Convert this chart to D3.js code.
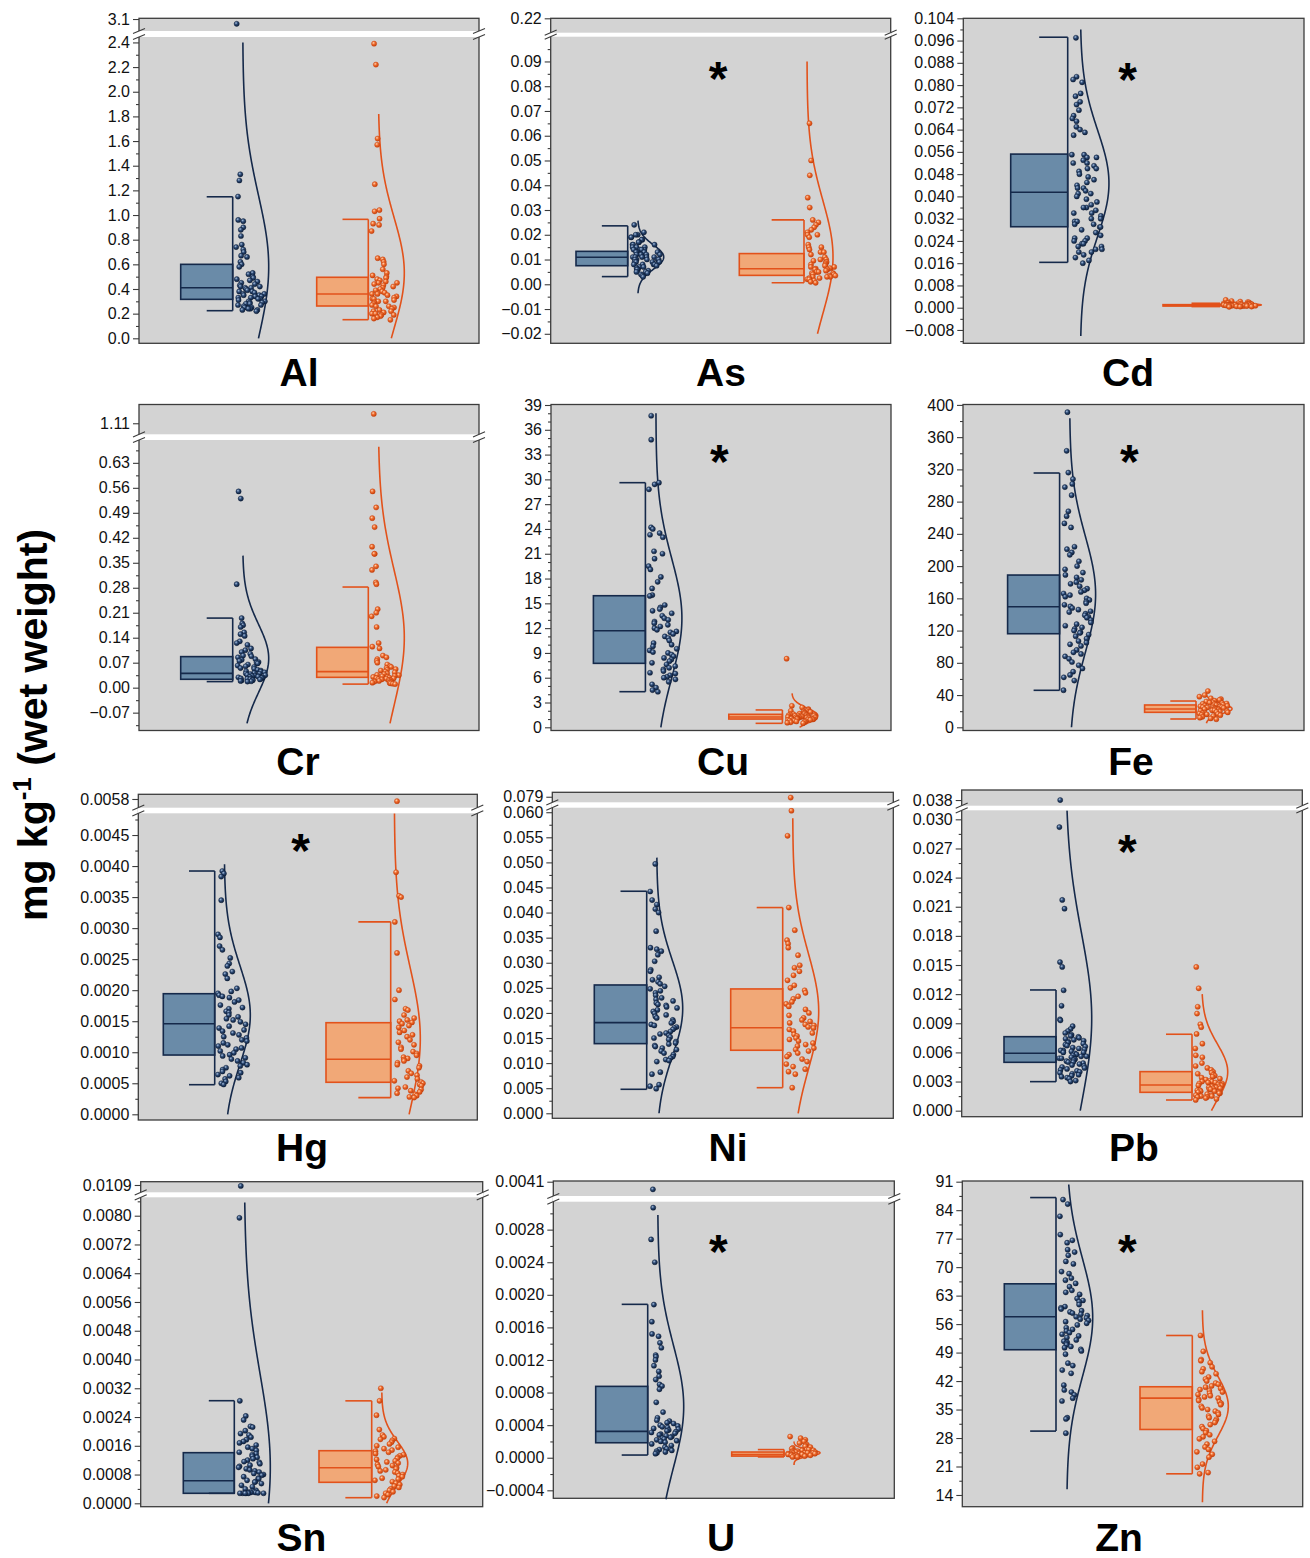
<!DOCTYPE html>
<html>
<head>
<meta charset="utf-8">
<script src="https://cdn.jsdelivr.net/npm/d3@7"></script>
<style>
  body { margin: 0; background: #fff; }
  svg text { font-family: "Liberation Sans", Arial, sans-serif; }
</style>
</head>
<body>
<svg id="chart" width="1310" height="1558"></svg>
<script>
// ---------- data ----------
const elements = ["Al", "As", "Cd", "Cr", "Cu", "Fe", "Hg", "Ni", "Pb", "Sn", "U", "Zn"];
const significant = [false, true, true, false, true, true, true, false, true, false, true, true];

// individual concentrations, group A (navy) and group B (orange)
const alA = [3.06, 1.33, 1.28, 1.15, 0.96, 0.95, 0.90, 0.88, 0.83, 0.76, 0.74, 0.72, 0.70, 0.67, 0.66, 0.62, 0.60, 0.58, 0.53, 0.52, 0.50, 0.49, 0.48, 0.47, 0.46, 0.45, 0.44, 0.43, 0.42, 0.42, 0.41, 0.41, 0.40, 0.39, 0.38, 0.38, 0.37, 0.36, 0.36, 0.35, 0.35, 0.34, 0.34, 0.33, 0.33, 0.32, 0.32, 0.31, 0.30, 0.30, 0.29, 0.29, 0.28, 0.28, 0.27, 0.27, 0.26, 0.25, 0.25, 0.24, 0.24, 0.23, 0.23, 0.22];
const alB = [2.39, 2.22, 1.62, 1.57, 1.25, 1.04, 1.03, 0.97, 0.93, 0.92, 0.87, 0.65, 0.64, 0.62, 0.60, 0.56, 0.53, 0.51, 0.50, 0.49, 0.48, 0.47, 0.46, 0.45, 0.45, 0.44, 0.43, 0.42, 0.41, 0.40, 0.39, 0.38, 0.37, 0.36, 0.36, 0.35, 0.34, 0.33, 0.32, 0.32, 0.31, 0.30, 0.30, 0.29, 0.28, 0.27, 0.26, 0.26, 0.25, 0.24, 0.23, 0.22, 0.22, 0.21, 0.20, 0.20, 0.19, 0.19, 0.18, 0.17, 0.16, 0.15];
const asA = [0.024, 0.021, 0.020, 0.020, 0.019, 0.019, 0.018, 0.018, 0.017, 0.017, 0.016, 0.016, 0.016, 0.015, 0.015, 0.015, 0.014, 0.014, 0.014, 0.014, 0.013, 0.013, 0.013, 0.013, 0.012, 0.012, 0.012, 0.012, 0.011, 0.011, 0.011, 0.011, 0.011, 0.010, 0.010, 0.010, 0.010, 0.010, 0.009, 0.009, 0.009, 0.009, 0.008, 0.008, 0.008, 0.008, 0.0075, 0.007, 0.007, 0.0065, 0.006, 0.006, 0.0055, 0.005, 0.005, 0.0045, 0.004, 0.0035, 0.003];
const asB = [0.065, 0.050, 0.044, 0.035, 0.031, 0.026, 0.025, 0.024, 0.023, 0.022, 0.021, 0.020, 0.020, 0.019, 0.016, 0.015, 0.015, 0.014, 0.013, 0.013, 0.012, 0.011, 0.010, 0.010, 0.0095, 0.009, 0.009, 0.0085, 0.008, 0.008, 0.0075, 0.007, 0.007, 0.0065, 0.0063, 0.006, 0.006, 0.0055, 0.005, 0.005, 0.0045, 0.0045, 0.004, 0.004, 0.004, 0.0035, 0.0035, 0.003, 0.003, 0.003, 0.0025, 0.0025, 0.002, 0.002, 0.0015, 0.001, 0.0006];
const cdA = [0.097, 0.083, 0.082, 0.081, 0.077, 0.076, 0.074, 0.073, 0.071, 0.069, 0.068, 0.067, 0.065, 0.064, 0.063, 0.062, 0.055, 0.055, 0.054, 0.054, 0.053, 0.052, 0.052, 0.051, 0.050, 0.050, 0.049, 0.048, 0.047, 0.046, 0.045, 0.044, 0.043, 0.043, 0.042, 0.041, 0.041, 0.040, 0.039, 0.038, 0.037, 0.036, 0.036, 0.035, 0.034, 0.034, 0.033, 0.032, 0.032, 0.031, 0.031, 0.030, 0.030, 0.029, 0.029, 0.028, 0.027, 0.026, 0.025, 0.025, 0.024, 0.024, 0.023, 0.023, 0.022, 0.022, 0.021, 0.021, 0.020, 0.020, 0.019, 0.018, 0.017, 0.016];
const cdB = [0.0028, 0.0024, 0.0022, 0.0020, 0.0019, 0.0018, 0.0017, 0.0016, 0.0015, 0.0015, 0.0014, 0.0014, 0.0013, 0.0013, 0.0012, 0.0012, 0.0012, 0.0011, 0.0011, 0.0011, 0.0010, 0.0010, 0.0010, 0.0010, 0.0009, 0.0009, 0.0009, 0.0009, 0.0008, 0.0008, 0.0008, 0.0008, 0.0007, 0.0007, 0.0007, 0.0006, 0.0006, 0.0006, 0.0005, 0.0005, 0.0004, 0.0004, 0.0003];
const crA = [0.55, 0.53, 0.29, 0.195, 0.18, 0.175, 0.17, 0.155, 0.15, 0.145, 0.13, 0.125, 0.12, 0.11, 0.105, 0.10, 0.095, 0.09, 0.088, 0.085, 0.08, 0.078, 0.075, 0.072, 0.07, 0.068, 0.065, 0.062, 0.06, 0.058, 0.055, 0.053, 0.05, 0.048, 0.046, 0.045, 0.043, 0.041, 0.040, 0.039, 0.038, 0.036, 0.035, 0.034, 0.033, 0.032, 0.031, 0.030, 0.029, 0.028, 0.027, 0.026, 0.025, 0.025, 0.024, 0.023, 0.022, 0.021, 0.020, 0.019, 0.018, 0.017];
const crB = [1.127, 0.55, 0.505, 0.475, 0.45, 0.395, 0.375, 0.375, 0.34, 0.33, 0.295, 0.29, 0.22, 0.21, 0.20, 0.17, 0.125, 0.115, 0.11, 0.09, 0.085, 0.08, 0.075, 0.07, 0.065, 0.06, 0.058, 0.055, 0.052, 0.05, 0.048, 0.045, 0.043, 0.04, 0.038, 0.036, 0.035, 0.033, 0.032, 0.03, 0.03, 0.028, 0.027, 0.026, 0.025, 0.024, 0.023, 0.022, 0.021, 0.02, 0.019, 0.018, 0.017, 0.016, 0.015, 0.014, 0.013, 0.012, 0.011, 0.010];
const cuA = [37.7, 34.8, 29.6, 29.4, 28.8, 24.2, 24.0, 23.5, 23.3, 23.0, 21.3, 21.0, 20.4, 19.5, 19.1, 18.2, 17.6, 16.8, 16.0, 15.9, 14.8, 14.5, 14.3, 14.1, 13.8, 13.5, 13.2, 13.0, 12.8, 12.6, 12.4, 12.2, 12.0, 11.8, 11.6, 11.5, 11.3, 11.0, 10.8, 10.5, 10.2, 10.0, 9.8, 9.5, 9.3, 9.1, 9.0, 8.8, 8.6, 8.4, 8.2, 8.0, 7.8, 7.6, 7.4, 7.2, 7.0, 6.8, 6.6, 6.5, 6.3, 6.1, 6.0, 5.8, 5.5, 5.2, 4.8, 4.5, 4.3];
const cuB = [8.3, 2.6, 2.4, 2.2, 2.1, 2.0, 1.95, 1.9, 1.85, 1.8, 1.75, 1.7, 1.65, 1.6, 1.6, 1.55, 1.5, 1.5, 1.45, 1.45, 1.4, 1.4, 1.35, 1.35, 1.3, 1.3, 1.25, 1.25, 1.2, 1.2, 1.2, 1.15, 1.15, 1.1, 1.1, 1.05, 1.05, 1.0, 1.0, 0.95, 0.95, 0.9, 0.9, 0.85, 0.8, 0.8, 0.75, 0.7, 0.65, 0.6, 0.55, 0.5];
const feA = [391, 343, 316, 308, 302, 298, 288, 268, 262, 253, 248, 224, 221, 217, 214, 206, 200, 196, 192, 189, 186, 183, 180, 178, 175, 172, 170, 168, 166, 164, 162, 160, 158, 156, 154, 152, 150, 148, 146, 144, 143, 141, 139, 137, 136, 133, 130, 128, 126, 124, 122, 120, 118, 117, 115, 113, 110, 107, 105, 103, 101, 96, 93, 91, 88, 85, 81, 77, 73, 69, 65, 62, 58, 46];
const feB = [45, 40, 38, 36, 35, 34, 33, 32, 31, 30.5, 30, 29.5, 29, 28.5, 28, 27.5, 27, 26.5, 26, 26, 25.5, 25, 25, 24.5, 24, 24, 23.5, 23, 23, 22.5, 22.5, 22, 22, 21.5, 21, 21, 20.5, 20, 20, 19.5, 19, 18.5, 18, 17.5, 17, 16.5, 16, 15.5, 15, 14, 13, 12, 11, 10];
const hgA = [0.00392, 0.00388, 0.00383, 0.00345, 0.00290, 0.00285, 0.00271, 0.00265, 0.00252, 0.00243, 0.00239, 0.00230, 0.00226, 0.00219, 0.00203, 0.00198, 0.00195, 0.00192, 0.00190, 0.00188, 0.00184, 0.00181, 0.00176, 0.00172, 0.00170, 0.00166, 0.00164, 0.00160, 0.00157, 0.00154, 0.00152, 0.00149, 0.00145, 0.00142, 0.00139, 0.00136, 0.00134, 0.00131, 0.00128, 0.00125, 0.00123, 0.00120, 0.00118, 0.00115, 0.00112, 0.00110, 0.00107, 0.00105, 0.00102, 0.00099, 0.00096, 0.00094, 0.00091, 0.00089, 0.00086, 0.00083, 0.00080, 0.00078, 0.00075, 0.00072, 0.00069, 0.00067, 0.00064, 0.00062, 0.00059, 0.00057, 0.00053, 0.00050, 0.00048];
const hgB = [0.00575, 0.0039, 0.00352, 0.00350, 0.00310, 0.00260, 0.00200, 0.00185, 0.00170, 0.00168, 0.00160, 0.00155, 0.00152, 0.00150, 0.00148, 0.00146, 0.00143, 0.00140, 0.00135, 0.00132, 0.00128, 0.00125, 0.00120, 0.00116, 0.00112, 0.00108, 0.00105, 0.00101, 0.00098, 0.00095, 0.00092, 0.00090, 0.00088, 0.00086, 0.00083, 0.00080, 0.00078, 0.00075, 0.00070, 0.00066, 0.00063, 0.00060, 0.00057, 0.00054, 0.00052, 0.00050, 0.00048, 0.00046, 0.00044, 0.00042, 0.00040, 0.00038, 0.00036, 0.00034, 0.00032, 0.00030, 0.00028, 0.00027];
const niA = [0.0497, 0.0442, 0.0425, 0.0416, 0.0407, 0.0400, 0.0363, 0.0330, 0.0327, 0.0323, 0.0316, 0.0303, 0.0286, 0.0283, 0.0271, 0.0266, 0.0262, 0.0258, 0.0253, 0.0248, 0.0244, 0.0240, 0.0235, 0.0230, 0.0227, 0.0224, 0.0220, 0.0217, 0.0215, 0.0212, 0.0210, 0.0206, 0.0203, 0.0199, 0.0196, 0.0193, 0.0190, 0.0186, 0.0183, 0.0180, 0.0177, 0.0175, 0.0172, 0.0170, 0.0167, 0.0163, 0.0160, 0.0158, 0.0155, 0.0152, 0.0150, 0.0147, 0.0143, 0.0140, 0.0138, 0.0135, 0.0133, 0.0130, 0.0127, 0.0124, 0.0120, 0.0117, 0.0113, 0.0110, 0.0107, 0.0105, 0.0103, 0.0082, 0.0078, 0.0057, 0.0054, 0.0049];
const niB = [0.0787, 0.0603, 0.0553, 0.0410, 0.0365, 0.0345, 0.0338, 0.0330, 0.0315, 0.0295, 0.0290, 0.0283, 0.0275, 0.0265, 0.0255, 0.0250, 0.0245, 0.0240, 0.0233, 0.0228, 0.0222, 0.0218, 0.0213, 0.0207, 0.0200, 0.0195, 0.0190, 0.0186, 0.0183, 0.0180, 0.0177, 0.0175, 0.0172, 0.0170, 0.0167, 0.0164, 0.0160, 0.0157, 0.0154, 0.0150, 0.0147, 0.0144, 0.0140, 0.0137, 0.0134, 0.0130, 0.0127, 0.0124, 0.0120, 0.0117, 0.0113, 0.0108, 0.0103, 0.0098, 0.0093, 0.0088, 0.0083, 0.0078, 0.0051];
const pbA = [0.0380, 0.0292, 0.0217, 0.0208, 0.0153, 0.0148, 0.0124, 0.0108, 0.0094, 0.0093, 0.0087, 0.0084, 0.0082, 0.0080, 0.0078, 0.0077, 0.0076, 0.0075, 0.0074, 0.0073, 0.0072, 0.0071, 0.0070, 0.0069, 0.0068, 0.0067, 0.0066, 0.0065, 0.0064, 0.0063, 0.0062, 0.0062, 0.0061, 0.0060, 0.0060, 0.0059, 0.0058, 0.0058, 0.0057, 0.0056, 0.0056, 0.0055, 0.0054, 0.0054, 0.0053, 0.0052, 0.0051, 0.0050, 0.0050, 0.0049, 0.0048, 0.0047, 0.0046, 0.0045, 0.0044, 0.0043, 0.0042, 0.0041, 0.0040, 0.0039, 0.0038, 0.0037, 0.0036, 0.0035, 0.0034, 0.0033, 0.0031, 0.0030];
const pbB = [0.0148, 0.0126, 0.0107, 0.0100, 0.0089, 0.0086, 0.0079, 0.0069, 0.0064, 0.0057, 0.0055, 0.0049, 0.0046, 0.0044, 0.0042, 0.0040, 0.0039, 0.0038, 0.0037, 0.0036, 0.0035, 0.0034, 0.0033, 0.0032, 0.0031, 0.0030, 0.0030, 0.0029, 0.0029, 0.0028, 0.0028, 0.0027, 0.0027, 0.0026, 0.0026, 0.0025, 0.0025, 0.0024, 0.0024, 0.0023, 0.0023, 0.0022, 0.0022, 0.0021, 0.0021, 0.0020, 0.0020, 0.0019, 0.0019, 0.0018, 0.0018, 0.0017, 0.0016, 0.0016, 0.0015, 0.0015, 0.0014, 0.0014, 0.0013, 0.0012, 0.0011];
const snA = [0.01085, 0.00794, 0.00285, 0.00243, 0.00232, 0.00214, 0.00212, 0.00202, 0.00194, 0.00190, 0.00184, 0.00177, 0.00172, 0.00168, 0.00162, 0.00156, 0.00152, 0.00147, 0.00142, 0.00138, 0.00135, 0.00131, 0.00128, 0.00124, 0.00120, 0.00116, 0.00114, 0.00110, 0.00106, 0.00103, 0.00100, 0.00096, 0.00093, 0.00090, 0.00087, 0.00083, 0.00080, 0.00078, 0.00074, 0.00070, 0.00068, 0.00064, 0.00060, 0.00059, 0.00055, 0.00050, 0.00046, 0.00040, 0.00036, 0.00034, 0.00032, 0.00031, 0.00030, 0.00030, 0.00029, 0.00029, 0.00028, 0.00028, 0.00028, 0.00028, 0.00028, 0.00028];
const snB = [0.00320, 0.00285, 0.00245, 0.00205, 0.00190, 0.00185, 0.00180, 0.00178, 0.00175, 0.00170, 0.00165, 0.00160, 0.00156, 0.00152, 0.00148, 0.00145, 0.00142, 0.00138, 0.00135, 0.00132, 0.00128, 0.00125, 0.00122, 0.00118, 0.00115, 0.00112, 0.00108, 0.00105, 0.00102, 0.00099, 0.00096, 0.00093, 0.00090, 0.00087, 0.00084, 0.00080, 0.00077, 0.00074, 0.00070, 0.00067, 0.00064, 0.00060, 0.00056, 0.00052, 0.00048, 0.00044, 0.00040, 0.00036, 0.00032, 0.00028, 0.00024, 0.00020, 0.00016];
const uA = [0.00394, 0.00307, 0.00268, 0.00240, 0.00188, 0.00167, 0.00152, 0.00149, 0.00141, 0.00135, 0.00126, 0.00124, 0.00120, 0.00113, 0.00106, 0.00100, 0.00096, 0.00090, 0.00088, 0.00084, 0.00068, 0.00056, 0.00049, 0.00046, 0.00045, 0.00043, 0.00042, 0.00040, 0.00039, 0.00038, 0.00037, 0.00036, 0.00035, 0.00034, 0.00033, 0.00032, 0.00031, 0.00030, 0.00029, 0.00028, 0.00027, 0.00026, 0.00025, 0.00024, 0.00023, 0.00022, 0.00021, 0.00020, 0.00019, 0.00017, 0.00015, 0.00013, 0.00011, 0.00010, 0.00009, 0.00008, 0.00007, 0.00006, 0.00005];
const uB = [0.00026, 0.00024, 0.00022, 0.00020, 0.00018, 0.00016, 0.00015, 0.00014, 0.00013, 0.00012, 0.00011, 0.00010, 0.00010, 0.00009, 0.00009, 0.00008, 0.00008, 0.00008, 0.00007, 0.00007, 0.00007, 0.00006, 0.00006, 0.00006, 0.00006, 0.00005, 0.00005, 0.00005, 0.00005, 0.00004, 0.00004, 0.00004, 0.00004, 0.00003, 0.00003, 0.00003, 0.00003, 0.00002, 0.00002, 0.00002, 0.00001, 0.00001];
const znA = [86.6, 85.5, 82.5, 78.0, 76.6, 76.0, 74.3, 73.7, 72.9, 71.4, 70.8, 68.9, 68.4, 67.3, 66.8, 66.0, 65.2, 64.3, 63.8, 63.3, 62.3, 61.8, 61.5, 60.8, 60.3, 60.0, 59.7, 59.3, 59.0, 58.7, 58.4, 58.1, 57.8, 57.5, 57.2, 56.9, 56.6, 56.2, 55.8, 55.1, 54.7, 54.3, 53.9, 53.5, 53.1, 52.7, 52.1, 51.8, 51.5, 51.2, 50.9, 50.5, 50.2, 49.8, 49.4, 48.6, 46.4, 45.8, 44.7, 43.9, 41.0, 39.8, 39.3, 38.6, 37.8, 37.1, 33.0, 32.7, 29.2];
const znB = [53.2, 49.3, 47.3, 47.0, 46.5, 45.5, 45.0, 44.3, 43.8, 43.0, 42.5, 42.0, 41.5, 41.2, 40.8, 40.5, 40.2, 39.9, 39.6, 39.3, 39.0, 38.7, 38.4, 38.1, 37.8, 37.5, 37.2, 36.9, 36.5, 36.2, 35.8, 35.4, 35.0, 34.6, 34.2, 33.8, 33.4, 33.0, 32.6, 32.2, 31.8, 31.3, 30.8, 30.3, 29.8, 29.3, 28.8, 28.3, 27.8, 27.2, 26.5, 25.8, 25.2, 24.6, 24.0, 23.3, 21.6, 20.8, 19.5, 19.2];

const seriesA = [alA, asA, cdA, crA, cuA, feA, hgA, niA, pbA, snA, uA, znA];
const seriesB = [alB, asB, cdB, crB, cuB, feB, hgB, niB, pbB, snB, uB, znB];

// box statistics: [lower whisker, Q1, median, Q3, upper whisker]
const boxA = [
  [0.224, 0.316, 0.41, 0.60, 1.148], [0.0031, 0.0075, 0.0109, 0.0133, 0.0236],
  [0.0163, 0.0291, 0.0415, 0.0552, 0.0972], [0.017, 0.0235, 0.040, 0.087, 0.195],
  [4.31, 7.74, 11.69, 15.92, 29.6], [45.9, 116.1, 149.6, 188.9, 315.5],
  [0.000477, 0.000955, 0.00146, 0.001943, 0.00392], [0.00478, 0.01388, 0.01806, 0.02557, 0.04425],
  [0.00299, 0.00498, 0.00591, 0.00762, 0.01243], [0.000278, 0.000278, 0.000628, 0.001408, 0.002854],
  [0.000033, 0.000184, 0.000324, 0.000876, 0.001883], [29.7, 49.7, 57.8, 65.9, 87.1]
];
const boxB = [
  [0.151, 0.262, 0.359, 0.495, 0.965], [0.0006, 0.0036, 0.0063, 0.0124, 0.026],
  [0.0004, 0.0006, 0.0008, 0.0011, 0.0016], [0.010, 0.029, 0.045, 0.113, 0.282],
  [0.48, 1.0, 1.25, 1.57, 2.1], [10.3, 18.6, 22.7, 27.7, 32.6],
  [0.000268, 0.000516, 0.000886, 0.001476, 0.0031], [0.0051, 0.01256, 0.01706, 0.02478, 0.041],
  [0.0011, 0.00189, 0.00265, 0.00402, 0.00787], [0.000156, 0.000584, 0.00099, 0.001463, 0.00285],
  [0.00001, 0.00002, 0.00004, 0.00007, 0.0001], [19.2, 30.1, 37.8, 40.6, 53.2]
];

// fitted normal curves: [mean, sd, drawn from, drawn to]
const curveA = [
  [0.58, 0.58, 0, 2.4], [0.011, 0.0049, -0.0036, 0.0257], [0.0447, 0.019, -0.0102, 0.100],
  [0.082, 0.096, -0.10, 0.37], [13.2, 7.25, 0, 38.0], [165, 72, 0, 383.5],
  [0.0016, 0.00079, 0, 0.00403], [0.0209, 0.0095, 0, 0.05095], [0.0095, 0.0088, 0, 0.0309],
  [0.0010, 0.0026, 0, 0.00837], [0.00063, 0.00075, -0.00051, 0.00298], [57.6, 14.5, 15.4, 90.3]
];
const curveB = [
  [0.53, 0.45, 0, 1.82], [0.011, 0.023, -0.02, 0.09], [0.001, 0.0004, 0, 0.0022],
  [0.14, 0.19, -0.10, 0.675], [1.4, 0.9, 0, 4.1], [23, 6.3, 5, 42],
  [0.00122, 0.00115, 0, 0.00485], [0.0203, 0.0115, 0, 0.0588], [0.0040, 0.00286, 0, 0.012],
  [0.00111, 0.00061, 0, 0.00308], [0.00006, 0.00004, -0.00009, 0.0002], [35.8, 7.3, 12.2, 59.4]
];

// y ticks: [first, last, step, decimals]
const tickSpecs = [
  [0, 2.4, 0.2, 1], [-0.02, 0.09, 0.01, 2], [-0.008, 0.104, 0.008, 3],
  [-0.07, 0.63, 0.07, 2], [0, 39, 3, 0], [0, 400, 40, 0],
  [0, 0.0045, 0.0005, 4], [0, 0.060, 0.005, 3], [0, 0.030, 0.003, 3],
  [0, 0.0080, 0.0008, 4], [-0.0004, 0.0028, 0.0004, 4], [14, 91, 7, 0]
];
const minorDivs = [2, 2, 2, 2, 3, 2, 2, 2, 2, 2, 2, 2];
const breakTicks = [3.1, 0.22, null, 1.11, null, null, 0.0058, 0.079, 0.038, 0.0109, 0.0041, null];

// lower (main) axis range and upper (broken) axis range
const lowDomains = [
  [-0.0405, 2.444], [-0.02384, 0.1], [-0.01279, 0.104], [-0.12, 0.694],
  [-0.387, 39.06], [-3.97, 400.5], [-0.0000918, 0.00485], [-0.001, 0.0609],
  [-0.00062, 0.03093], [-0.0000946, 0.008512], [-0.000498, 0.003143], [11.12, 91.17]
];
const topDomains = [
  [3.0, 3.106], [0.2, 0.22], null, [1.09, 1.144], null, null,
  [0.0056, 0.0059077], [0.077, 0.0806], [0.0367, 0.0403], [0.0105, 0.01108], [0.0038, 0.004115], null
];

// ---------- layout ----------
// plot rectangle [x0, y0, x1, y1]; white break band [top, bottom];
// box extents relative to x0 [left, right]; curve offset from whisker line; star offset from (x0, y0)
const layout = [
  { rect: [139, 18.3, 479, 343.3], band: [31, 37], bA: [41.7, 93.7], bB: [177.7, 229.3], off: [10, 10], title: [299, 386] },
  { rect: [550.7, 18.3, 890.7, 343.3], band: [32.7, 36.7], bA: [25.3, 77], bB: [188.6, 253.3], off: [10, 3], star: [167.3, 53.4], title: [721, 386] },
  { rect: [963.3, 18.3, 1304, 343.3], band: null, bA: [47.4, 104.4], bB: [199.7, 256.7], off: [11.5, 11.5], wide: 1.1, star: [164.4, 54.4], title: [1128, 386] },
  { rect: [139, 404.5, 479, 730.5], band: [434.3, 440], bA: [41.7, 93.7], bB: [177.7, 229.3], off: [10, 10], title: [298, 775] },
  { rect: [551, 404.5, 891, 730.5], band: null, bA: [42.4, 94.4], bB: [177.8, 231.4], off: [10.5, 9.4], star: [168.4, 50.5], title: [723, 775] },
  { rect: [963, 404.5, 1304, 730.5], band: null, bA: [44.6, 96.6], bB: [181.6, 233], off: [10, 10], star: [166.4, 50.5], title: [1131, 775] },
  { rect: [138.3, 794.3, 477.3, 1120], band: [807.7, 813.3], bA: [25, 76.4], bB: [187.7, 252.4], off: [9.6, 3.6], star: [162.4, 50], title: [302, 1161] },
  { rect: [552.3, 792.3, 893.3, 1118.3], band: [802.3, 807.7], bA: [42, 94.4], bB: [178.4, 230.4], off: [10, 10], title: [728, 1161] },
  { rect: [961.7, 790, 1302.3, 1116.7], band: [805.7, 810.3], bA: [42.3, 94.3], bB: [178.3, 230.3], off: [9.7, 9.7], star: [165.6, 55], title: [1134, 1161] },
  { rect: [140.7, 1181.7, 482.7, 1506.7], band: [1192.3, 1197.3], bA: [42.6, 93.6], bB: [178.3, 231], off: [10, 10], title: [301.5, 1551] },
  { rect: [553.3, 1181, 894.3, 1498.3], band: [1196, 1201.7], bA: [42.4, 94.4], bB: [178.4, 230.7], off: [10, 10], star: [165, 64], title: [721, 1551] },
  { rect: [962.3, 1181, 1302.7, 1506.7], band: null, bA: [42, 93.7], bB: [177.7, 230], off: [10.7, 10], star: [165, 64], title: [1119, 1551] }
];

const styleA = { fill: "#6a8ba8", stroke: "#15294a", ball: "url(#ballA)", ballStroke: "#0b1a33" };
const styleB = { fill: "#f1a877", stroke: "#e2521b", ball: "url(#ballB)", ballStroke: "#c2400c" };

// ---------- drawing ----------
const svg = d3.select("#chart");
const defs = svg.append("defs");
function sphere(id, c0, c1, c2) {
  const g = defs.append("radialGradient").attr("id", id)
    .attr("cx", "38%").attr("cy", "35%").attr("r", "65%");
  g.append("stop").attr("offset", "0%").attr("stop-color", c0);
  g.append("stop").attr("offset", "45%").attr("stop-color", c1);
  g.append("stop").attr("offset", "100%").attr("stop-color", c2);
}
sphere("ballA", "#a9bfdc", "#2d4b76", "#0e203c");
sphere("ballB", "#ffd3b3", "#ef6c2e", "#c9420d");

// deterministic horizontal jitter in [0, 1)
const jitter = n => { const s = Math.sin(n * 12.9898 + 78.233) * 43758.5453; return s - Math.floor(s); };

const round = v => +v.toFixed(10);

elements.forEach((name, i) => {
  const L = layout[i];
  const [x0, y0, x1, y1] = L.rect;
  const g = svg.append("g");
  const lowTop = L.band ? L.band[1] : y0;
  const yLow = d3.scaleLinear().domain(lowDomains[i]).range([y1, lowTop]);
  const yTop = L.band ? d3.scaleLinear().domain(topDomains[i]).range([L.band[0], y0]) : null;
  const hiLow = lowDomains[i][1];
  const yOf = v => (yTop && v > hiLow) ? yTop(v) : yLow(v);
  const x = d3.scaleLinear().domain([0, x1 - x0]).range([x0, x1]);
  const wide = L.wide || 1;

  // panel background and frame
  g.append("rect").attr("x", x0).attr("y", y0).attr("width", x1 - x0).attr("height", y1 - y0)
    .attr("fill", "#d3d3d3").attr("stroke", "#3c3c3c").attr("stroke-width", 1.3);

  // y axis, major ticks
  const [t0, t1, step, dec] = tickSpecs[i];
  const nMaj = Math.round((t1 - t0) / step);
  const majors = d3.range(nMaj + 1).map(k => round(t0 + k * step));
  const fmt = d3.format("." + dec + "f");
  const axis = g.append("g").attr("transform", `translate(${x0},0)`)
    .call(d3.axisLeft(yLow).tickValues(majors).tickFormat(fmt).tickSize(6).tickSizeOuter(0).tickPadding(3));
  // minor ticks
  const mstep = step / minorDivs[i];
  const [lo, hi] = lowDomains[i];
  const minors = d3.range(Math.ceil(lo / mstep - 1e-6), Math.floor(hi / mstep + 1e-6) + 1)
    .map(k => round(k * mstep))
    .filter(v => !majors.some(m => Math.abs(m - v) < mstep * 0.01) && v <= hi - mstep * 0.05);
  const minorAxis = g.append("g").attr("transform", `translate(${x0},0)`)
    .call(d3.axisLeft(yLow).tickValues(minors).tickFormat("").tickSize(3).tickSizeOuter(0));
  const axes = [axis, minorAxis];
  if (yTop) {
    axes.push(g.append("g").attr("transform", `translate(${x0},0)`)
      .call(d3.axisLeft(yTop).tickValues([breakTicks[i]]).tickFormat(fmt).tickSize(6).tickSizeOuter(0).tickPadding(3)));
  }
  axes.forEach(a => {
    a.select(".domain").remove();
    a.selectAll("line").attr("stroke", "#3c3c3c").attr("stroke-width", 1.1);
    a.selectAll("text").attr("font-size", 16).attr("fill", "#111")
      .attr("font-family", "'Liberation Sans', Arial, sans-serif");
  });

  // boxes, normal curves and points for both groups
  [0, 1].forEach(s => {
    const st = s ? styleB : styleA;
    const [bl, br] = s ? L.bB : L.bA;
    const XL = x(bl), XR = x(br), XC = (XL + XR) / 2;
    const b = (s ? boxB : boxA)[i];
    const [m, sd, from, to] = (s ? curveB : curveA)[i];
    const vals = (s ? seriesB : seriesA)[i];

    // box
    g.append("rect").attr("x", XL).attr("y", yLow(b[3]))
      .attr("width", XR - XL).attr("height", Math.max(0.8, yLow(b[1]) - yLow(b[3])))
      .attr("fill", st.fill).attr("stroke", st.stroke).attr("stroke-width", 1.6);
    g.append("line").attr("x1", XL).attr("x2", XR).attr("y1", yLow(b[2])).attr("y2", yLow(b[2]))
      .attr("stroke", st.stroke).attr("stroke-width", 1.6);
    // whiskers along the right edge with half-width caps
    g.append("line").attr("x1", XR).attr("x2", XR).attr("y1", yLow(b[0])).attr("y2", yLow(b[4]))
      .attr("stroke", st.stroke).attr("stroke-width", 1.6);
    [b[0], b[4]].forEach(v => g.append("line").attr("x1", XC).attr("x2", XR)
      .attr("y1", yLow(v)).attr("y2", yLow(v)).attr("stroke", st.stroke).attr("stroke-width", 1.6));

    // normal distribution curve
    const base = XR + L.off[s] * wide, W = 26 * wide;
    const samples = d3.range(161).map(k => from + (to - from) * k / 160);
    g.append("path").datum(samples)
      .attr("d", d3.line().x(v => base + W * Math.exp(-0.5 * ((v - m) / sd) ** 2)).y(v => yLow(v)))
      .attr("fill", "none").attr("stroke", st.stroke).attr("stroke-width", 1.6);

    // points, spread sideways by local density
    const ys = vals.map(yOf);
    const dens = ys.map(y => d3.sum(ys, y2 => Math.exp(-0.5 * ((y - y2) / 8) ** 2)));
    const dmax = d3.max(dens);
    const J = 30 * wide;
    g.append("g").selectAll("circle").data(vals).join("circle")
      .attr("cx", (v, k) => XR + 3.2 + jitter(k + i * 131 + s * 977) * J * Math.pow(dens[k] / dmax, 0.6))
      .attr("cy", v => yOf(v))
      .attr("r", 2.6)
      .attr("fill", st.ball).attr("stroke", st.ballStroke).attr("stroke-width", 0.4);
  });

  // axis break: white band with slanted marks on both sides
  if (L.band) {
    const [bt, bb] = L.band;
    g.append("rect").attr("x", x0 - 1).attr("y", bt).attr("width", x1 - x0 + 2).attr("height", bb - bt)
      .attr("fill", "#fff");
    [x0, x1].forEach(xx => [bt, bb].forEach(yy => g.append("line")
      .attr("x1", xx - 6).attr("y1", yy + 2.6).attr("x2", xx + 6).attr("y2", yy - 2.6)
      .attr("stroke", "#3c3c3c").attr("stroke-width", 1.1)));
  }

  // significance marker
  if (significant[i] && L.star) {
    g.append("text").attr("x", x0 + L.star[0]).attr("y", y0 + L.star[1] + 23)
      .attr("text-anchor", "middle").attr("font-size", 48).attr("font-weight", "bold")
      .attr("fill", "#000").text("*");
  }

  // element label
  g.append("text").attr("x", L.title[0]).attr("y", L.title[1])
    .attr("text-anchor", "middle").attr("font-family", "Lato, 'Open Sans', sans-serif")
    .attr("font-weight", "bold").attr("font-size", 39).attr("fill", "#000").text(name);
});

// shared y axis title
const yt = svg.append("text").attr("transform", "translate(47,725) rotate(-90)")
  .attr("text-anchor", "middle").attr("font-family", "Lato, 'Open Sans', sans-serif")
  .attr("font-weight", "bold").attr("font-size", 41).attr("fill", "#000");
yt.append("tspan").text("mg kg");
yt.append("tspan").attr("font-size", 26).attr("dy", -16).text("-1");
yt.append("tspan").attr("dy", 16).text(" (wet weight)");
</script>
</body>
</html>
